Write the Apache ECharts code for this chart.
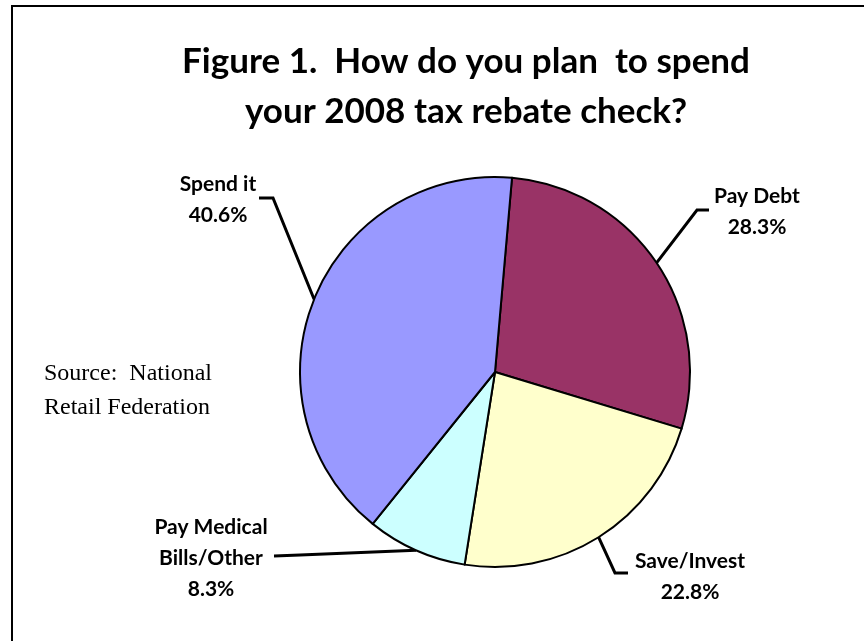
<!DOCTYPE html>
<html>
<head>
<meta charset="utf-8">
<script src="https://cdn.jsdelivr.net/npm/echarts@6/dist/echarts.min.js"></script>
<style>
  html, body { margin: 0; padding: 0; background: #fff; }
  #chart { width: 864px; height: 641px; }
</style>
</head>
<body>
<div id="chart"></div>
<script>
// 数据
var categories = ['Pay Debt', 'Save/Invest', 'Pay Medical\nBills/Other', 'Spend it'];
var values = [28.3, 22.8, 8.3, 40.6];
var colors = ['#993366', '#FFFFCC', '#CCFFFF', '#9999FF'];

// 标签位置 (label center, bend point, line end)
var labelPos = [
  { x: 757, y: 212, bend: [697, 210], end: [709, 210] },
  { x: 690, y: 577, bend: [615, 573], end: [628, 573] },
  { x: 211, y: 558, bend: [300, 555], end: [274, 556] },
  { x: 218, y: 200, bend: [273, 198], end: [259, 198] }
];

var chart = echarts.init(document.getElementById('chart'));

var option = {
  animation: false,
  graphic: [
    { type: 'line', shape: { x1: 11, y1: 6, x2: 864, y2: 6 }, style: { stroke: '#000', lineWidth: 2 } },
    { type: 'line', shape: { x1: 12, y1: 5, x2: 12, y2: 641 }, style: { stroke: '#000', lineWidth: 2 } },
    {
      type: 'text', x: 466, y: 37,
      style: {
        text: 'Figure 1.  How do you plan  to spend\nyour 2008 tax rebate check?',
        fontFamily: 'Lato',
        fontWeight: 'bold',
        fontSize: 35,
        lineHeight: 50,
        align: 'center',
        verticalAlign: 'top',
        fill: '#000'
      }
    },
    {
      type: 'text', x: 44, y: 357,
      style: {
        text: 'Source:  National\nRetail Federation',
        fontFamily: 'Liberation Serif',
        fontSize: 24,
        lineHeight: 34,
        fill: '#000'
      }
    }
  ],
  series: [{
    type: 'pie',
    center: [495, 372],
    radius: 195,
    startAngle: 85,
    clockwise: true,
    data: categories.map(function (name, i) {
      return { name: name, value: values[i], itemStyle: { color: colors[i] } };
    }),
    itemStyle: { borderColor: '#000', borderWidth: 2 },
    label: {
      show: true,
      position: 'outside',
      formatter: function (p) { return p.name + '\n' + p.value.toFixed(1) + '%'; },
      fontFamily: 'Lato',
      fontWeight: 'bold',
      fontSize: 21,
      lineHeight: 31,
      color: '#000',
      align: 'center'
    },
    labelLine: {
      show: true,
      length: 20,
      length2: 10,
      lineStyle: { color: '#000', width: 3 }
    },
    emphasis: { disabled: true },
    labelLayout: function (params) {
      var pos = labelPos[params.dataIndex];
      var start = params.labelLinePoints ? params.labelLinePoints[0] : pos.bend;
      return {
        x: pos.x,
        y: pos.y,
        align: 'center',
        verticalAlign: 'middle',
        labelLinePoints: [start, pos.bend, pos.end]
      };
    }
  }]
};

chart.setOption(option);
</script>
</body>
</html>
